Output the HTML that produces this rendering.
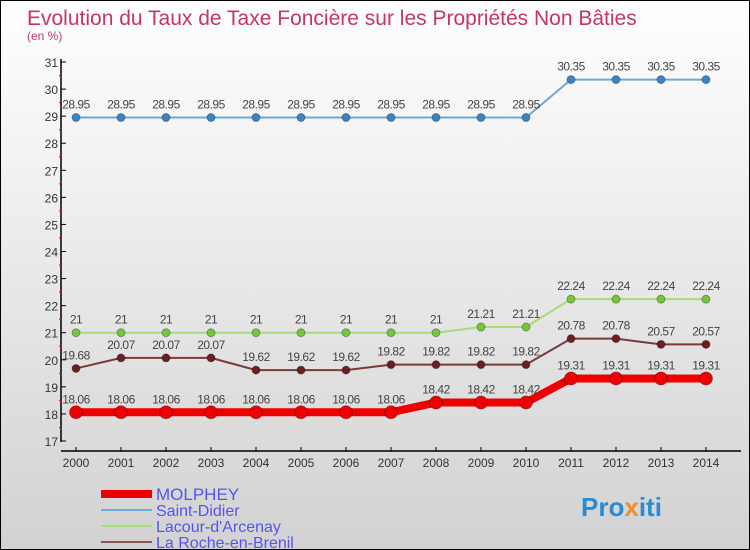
<!DOCTYPE html>
<html><head><meta charset="utf-8"><style>
body{margin:0;}
#c{width:750px;height:550px;position:relative;box-sizing:border-box;border:1px solid #000;background:linear-gradient(#fff,#d2d2d2);font-family:"Liberation Sans",sans-serif;overflow:hidden}
svg{position:absolute;left:0;top:0}
</style></head><body>
<div id="c">
<svg id="s" width="750" height="550">
<text x="26" y="24" font-size="21" fill="#c8336a">Evolution du Taux de Taxe Foncière sur les Propriétés Non Bâties</text>
<text x="26" y="39" font-size="12" fill="#c8336a">(en %)</text>
</svg>
</div>
<script>
const years=[2000,2001,2002,2003,2004,2005,2006,2007,2008,2009,2010,2011,2012,2013,2014];
const molphey=[18.06,18.06,18.06,18.06,18.06,18.06,18.06,18.06,18.42,18.42,18.42,19.31,19.31,19.31,19.31];
const saintDidier=[28.95,28.95,28.95,28.95,28.95,28.95,28.95,28.95,28.95,28.95,28.95,30.35,30.35,30.35,30.35];
const lacour=[21,21,21,21,21,21,21,21,21,21.21,21.21,22.24,22.24,22.24,22.24];
const laRoche=[19.68,20.07,20.07,20.07,19.62,19.62,19.62,19.82,19.82,19.82,19.82,20.78,20.78,20.57,20.57];
const yTicks=[17,18,19,20,21,22,23,24,25,26,27,28,29,30,31];
const svg=document.getElementById('s');const NS='http://www.w3.org/2000/svg';
const xs=i=>75+i*45;const ys=v=>440-(v-17)*27.07;
function el(t,a,p){const e=document.createElementNS(NS,t);for(const k in a)e.setAttribute(k,a[k]);(p||svg).appendChild(e);return e;}
const ax=el('line',{x1:60,y1:58,x2:60,y2:441,stroke:'#000','stroke-width':1.5});


const bx=el('line',{x1:60,y1:450,x2:740,y2:450,stroke:'#000','stroke-width':1.5});


yTicks.forEach(v=>{const y=ys(v);
el('line',{x1:60,y1:y,x2:65,y2:y,stroke:'#000'});
if(v<31)el('line',{x1:58,y1:y-13.5,x2:61,y2:y-13.5,stroke:'#e00'});
const t=el('text',{x:57,y:y+5,'font-size':12,'text-anchor':'end',fill:'#333'});t.textContent=v;

});
years.forEach((yr,i)=>{const x=xs(i);el('line',{x1:x,y1:446,x2:x,y2:450,stroke:'#000'});
const t=el('text',{x:x,y:466,'font-size':12,'text-anchor':'middle',fill:'#333'});t.textContent=yr;

});
function series(d,color,w,r,name,dot){
const g=el('g',{});


el('polyline',{points:d.map((v,i)=>xs(i)+','+ys(v)).join(' '),fill:'none',stroke:color,'stroke-width':w},g);
d.forEach((v,i)=>{el('circle',{cx:xs(i),cy:ys(v),r:r,fill:dot,stroke:'rgba(0,0,0,0.3)'},g);
const t=el('text',{x:xs(i),y:ys(v)-9,'font-size':12,'text-anchor':'middle',fill:'#444','letter-spacing':'-0.5'},g);t.textContent=v;});}
series(saintDidier,'#6fa8d2',2,4,'series-saint-didier','#3a84c4');
series(lacour,'#a6dc7a',2,4,'series-lacour-d-arcenay','#74c63a');
series(laRoche,'#7a3a3a',2,4,'series-la-roche-en-brenil','#6b1f1f');
series(molphey,'#ee0000',8,6.5,'series-molphey','#ee0000');
const leg=[['MOLPHEY','#ee0000',8],['Saint-Didier','#6fa8d2',2],['Lacour-d\'Arcenay','#a6dc7a',2],['La Roche-en-Brenil','#8a5555',2]];
leg.forEach((l,i)=>{const y=493+i*16;const g=el('g',{});


el('line',{x1:100,y1:y,x2:151,y2:y,stroke:l[1],'stroke-width':l[2]},g);
const t=el('text',{x:155,y:y+6,'font-size':i==0?17:16,fill:'#5555ee'},g);t.textContent=l[0];});
const lg=el('text',{x:580,y:515,'font-size':26,'font-weight':'bold',fill:'#2a8ad4'});


lg.innerHTML='Pro<tspan fill="#f09020">x</tspan>iti';
</script>
</body></html>
